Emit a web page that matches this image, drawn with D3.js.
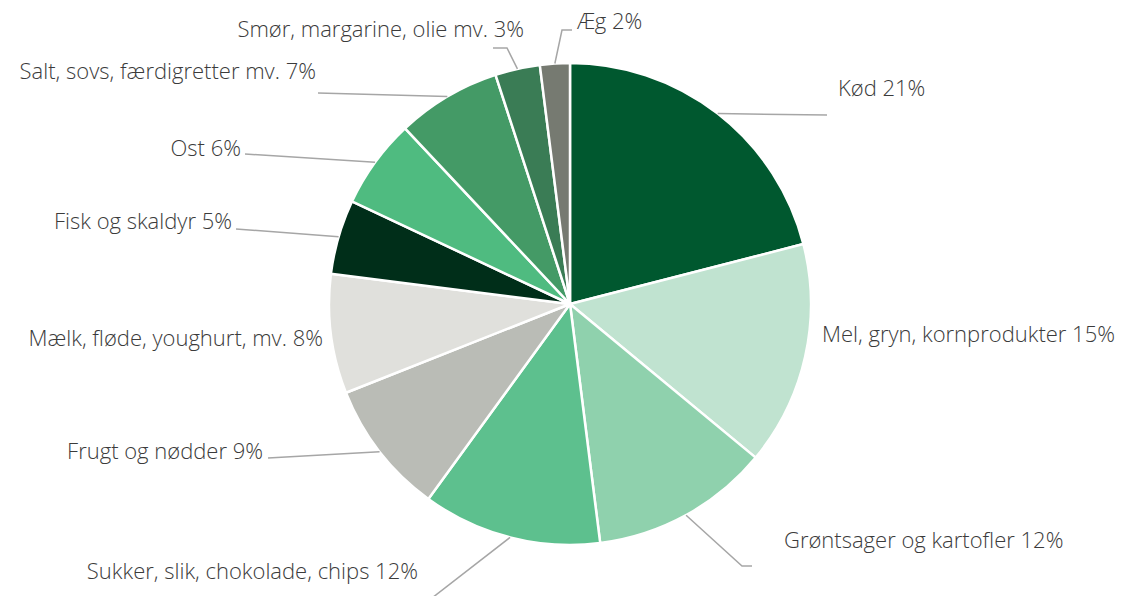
<!doctype html>
<html lang="da">
<head>
<meta charset="utf-8">
<title>Fødevaregrupper</title>
<script src="https://d3js.org/d3.v7.min.js"></script>
<style>
  body { margin: 0; background: #fff; }
  text { font-family: "Open Sans", sans-serif; font-weight: 300; fill: #3b3b3b; }
</style>
</head>
<body>
<div id="chart"></div>
<script>
// data
var categories = ["Kød", "Mel, gryn, kornprodukter", "Grøntsager og kartofler",
  "Sukker, slik, chokolade, chips", "Frugt og nødder", "Mælk, fløde, youghurt, mv.",
  "Fisk og skaldyr", "Ost", "Salt, sovs, færdigretter mv.", "Smør, margarine, olie mv.", "Æg"];
var shares = [21, 15, 12, 12, 9, 8, 5, 6, 7, 3, 2];
var colors = ["#00582f", "#c0e3d0", "#8fd1ad", "#5dc08e", "#babcb6", "#e0e0dc",
  "#002e19", "#4fbb80", "#449a66", "#3a7c55", "#767a71"];

// label placement (layout, per slice): text point, anchor, leader elbow points
var labelPos = [
  { x: 838, y: 96, a: "start", line: [[827, 115]] },
  { x: 822, y: 342, a: "start", line: [] },
  { x: 784, y: 548, a: "start", line: [[742, 566], [752, 566]] },
  { x: 418, y: 579, a: "end", line: [[432, 598]] },
  { x: 263, y: 459, a: "end", line: [[268, 458]] },
  { x: 323, y: 346, a: "end", line: [] },
  { x: 232, y: 229, a: "end", line: [[236, 229]] },
  { x: 241, y: 156, a: "end", line: [[245, 154]] },
  { x: 316, y: 79, a: "end", line: [[318, 93]] },
  { x: 524, y: 37, a: "end", line: [[507, 48], [493, 48]] },
  { x: 577, y: 29, a: "start", line: [[562, 30], [572, 30]] }
];

var width = 1125, height = 596;
var cx = 570, cy = 304, r = 241;

var svg = d3.select("#chart").append("svg")
  .attr("width", width)
  .attr("height", height);

var g = svg.append("g").attr("transform", "translate(" + cx + "," + cy + ")");

var pie = d3.pie().sort(null).value(function (d) { return d; });
var arcs = pie(shares);
var arc = d3.arc().innerRadius(0).outerRadius(r);

g.selectAll("path")
  .data(arcs)
  .enter()
  .append("path")
  .attr("d", arc)
  .attr("fill", function (d, i) { return colors[i]; })
  .attr("stroke", "#fff")
  .attr("stroke-width", 2.5)
  .attr("stroke-linejoin", "round");

// leader lines, starting on the rim at each slice's mid angle
var edge = d3.arc().innerRadius(r).outerRadius(r);
svg.append("g")
  .selectAll("polyline")
  .data(arcs)
  .enter()
  .filter(function (d, i) { return labelPos[i].line.length > 0; })
  .append("polyline")
  .attr("points", function (d) {
    var c = edge.centroid(d);
    var pts = [[c[0] + cx, c[1] + cy]].concat(labelPos[d.index].line);
    return pts.map(function (p) { return p.join(","); }).join(" ");
  })
  .attr("fill", "none")
  .attr("stroke", "#a6a6a6")
  .attr("stroke-width", 1.5);

svg.append("g")
  .selectAll("text")
  .data(arcs)
  .enter()
  .append("text")
  .attr("x", function (d) { return labelPos[d.index].x; })
  .attr("y", function (d) { return labelPos[d.index].y; })
  .attr("text-anchor", function (d) { return labelPos[d.index].a; })
  .attr("font-size", "22px")
  .text(function (d) { return categories[d.index] + " " + shares[d.index] + "%"; });
</script>
</body>
</html>
